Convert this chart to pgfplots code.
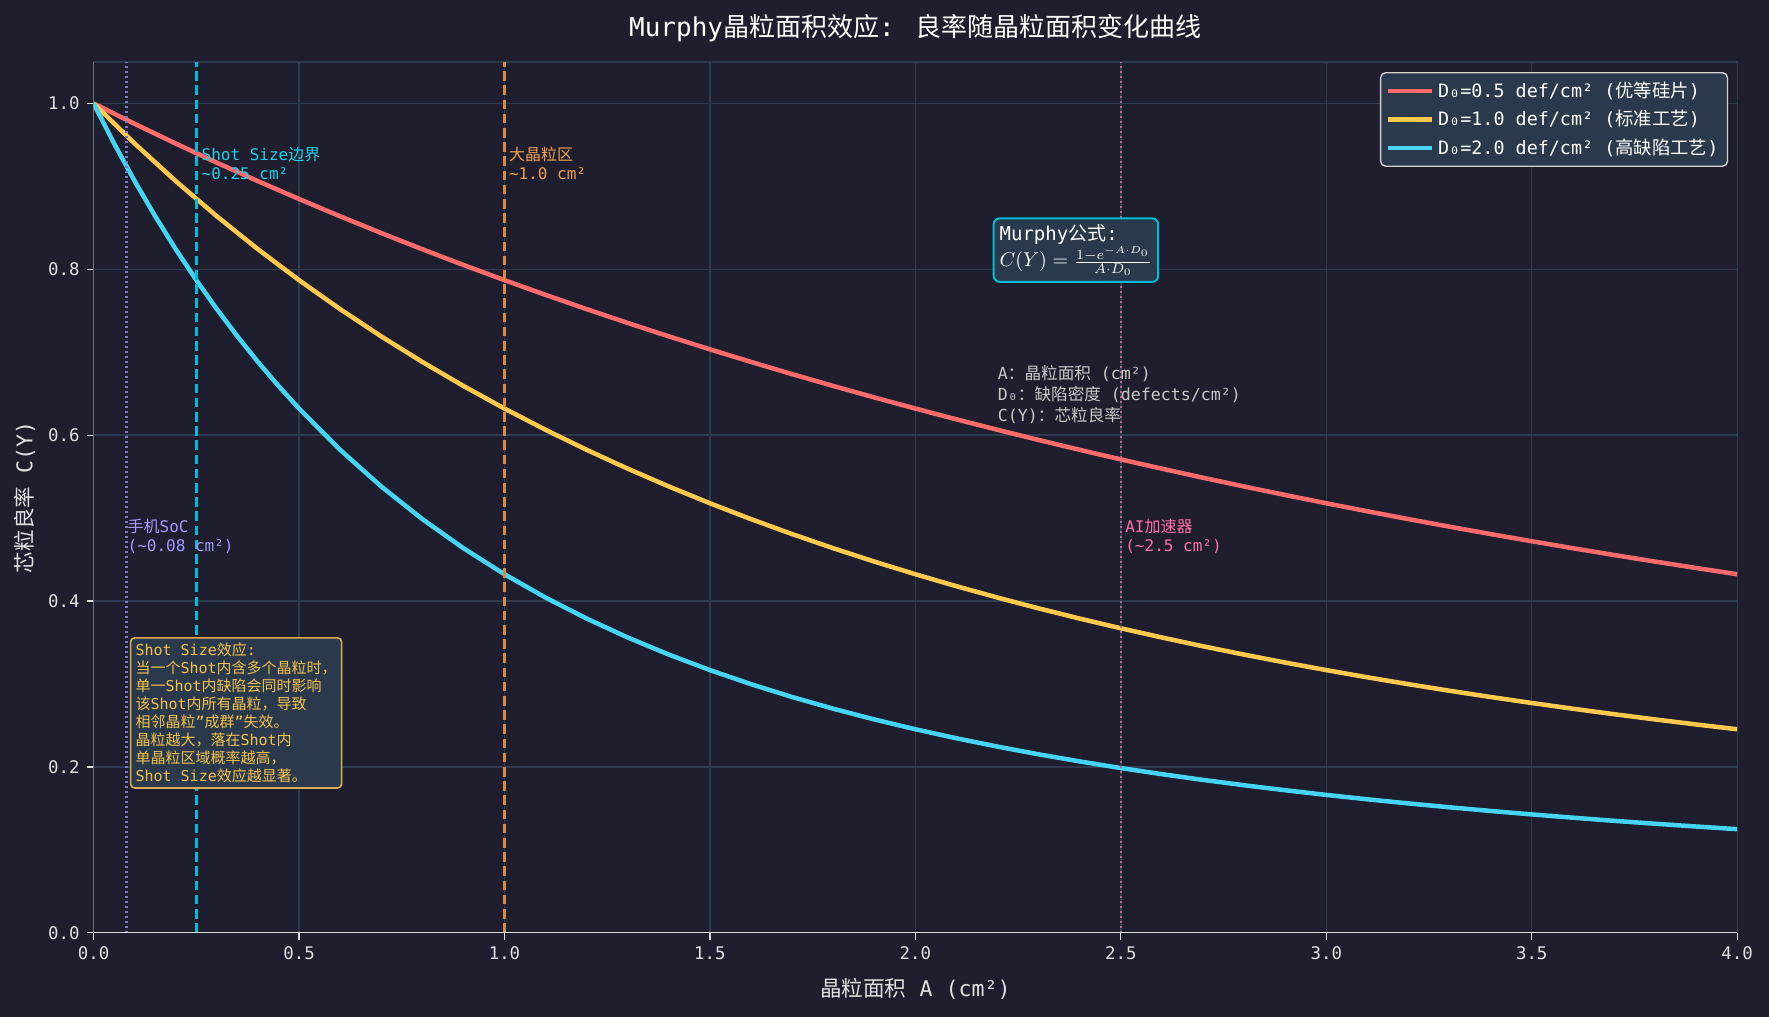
\documentclass[border=0pt]{standalone}
\usepackage{fontspec}
\setmainfont{DejaVu Sans Mono}
\newfontfamily\cjk{Noto Sans CJK SC}
\usepackage{pgfplots}
\pgfplotsset{compat=1.18}
\newcommand{\C}[1]{{\cjk #1}}
\definecolor{bg}{HTML}{1E1E2E}
\definecolor{gridc}{HTML}{2E3B4E}
\definecolor{cred}{HTML}{FF6B6B}
\definecolor{cyel}{HTML}{FFC94D}
\definecolor{ccya}{HTML}{45D4F2}
\definecolor{vcyan}{HTML}{00BCD4}
\definecolor{vorange}{HTML}{D98A3E}
\definecolor{vpurple}{HTML}{7B78C8}
\definecolor{lpurple}{HTML}{A29BFE}
\definecolor{vpink}{HTML}{B8658F}
\definecolor{lpink}{HTML}{FF6FA8}
\definecolor{lorange}{HTML}{F0A04B}
\definecolor{lcyan}{HTML}{1FD1E8}
\definecolor{boxfill}{HTML}{2A3A4C}
\definecolor{legborder}{HTML}{D0D0D0}
\definecolor{shottext}{HTML}{F4C04A}
\definecolor{shotborder}{HTML}{D9AE4F}
\definecolor{paramc}{HTML}{C8C8C8}
\definecolor{tickc}{HTML}{E0E0E0}
\definecolor{spine}{HTML}{DDDDDD}
\begin{document}
\begin{tikzpicture}
\fill[bg] (-46.8pt,-42.1pt) rectangle (837.7pt,466.4pt);
\begin{axis}[
  at={(0,0)}, anchor=south west, scale only axis,
  width=821.8pt, height=435.4pt,
  xmin=0, xmax=4, ymin=0, ymax=1.05,
  xtick={0,0.5,1,1.5,2,2.5,3,3.5,4},
  ytick={0,0.2,0.4,0.6,0.8,1.0},
  /pgf/number format/.cd, fixed, fixed zerofill, precision=1, assume math mode=true, /pgfplots/.cd,
  tick label style={font=\fontsize{8.7}{10}\selectfont, text=tickc},
  xtick pos=bottom, ytick pos=left, tick align=outside,
  major tick length=3.5pt, tick style={draw=spine, line width=0.6pt},
  grid=major, major grid style={draw=gridc, line width=0.7pt},
  axis line style={draw=gridc, line width=0.7pt},
  every axis x label/.style={at={(axis description cs:0.5,-0.0643)}, anchor=center},
  every axis y label/.style={at={(axis description cs:-0.0419,0.5)}, rotate=90, anchor=center},
  every axis title/.style={at={(axis description cs:0.5,1.0388)}, anchor=center},
  label style={font=\fontsize{10.8}{12}\selectfont, text=tickc},
  xlabel={\C{晶粒面积} A (cm²)},
  ylabel={\C{芯粒良率} C(Y)},
  title={Murphy\C{晶粒面积效应}: \C{良率随晶粒面积变化曲线}},
  title style={font=\fontsize{13}{15}\selectfont, text=white},
  legend style={at={(rel axis cs:0.9945,0.9885)}, anchor=north east,
    fill=boxfill, draw=legborder, line width=0.7pt, rounded corners=2.5pt,
    text=white, font=\fontsize{9.2}{10.5}\selectfont,
    nodes={inner sep=2pt}, row sep=1pt, inner sep=2.5pt},
  legend cell align=left,
  legend image code/.code={\draw[#1] (0pt,0pt) -- (22pt,0pt);},
]
% D0 = 0.5
\addplot[cred, line width=2.25pt] coordinates {
(0,1) (0.1,0.97542) (0.2,0.95163) (0.3,0.92861) (0.4,0.90635) (0.5,0.88480)
(0.6,0.86394) (0.7,0.84375) (0.8,0.82420) (0.9,0.80527) (1.0,0.78694)
(1.1,0.76918) (1.2,0.75198) (1.3,0.73531) (1.4,0.71916) (1.5,0.70351)
(1.6,0.68834) (1.7,0.67363) (1.8,0.65937) (1.9,0.64554) (2.0,0.63212)
(2.1,0.61911) (2.2,0.60648) (2.3,0.59423) (2.4,0.58234) (2.5,0.57080)
(2.6,0.55959) (2.7,0.54871) (2.8,0.53815) (2.9,0.52788) (3.0,0.51791)
(3.1,0.50823) (3.2,0.49881) (3.3,0.48967) (3.4,0.48077) (3.5,0.47213)
(3.6,0.46372) (3.7,0.45555) (3.8,0.44760) (3.9,0.43986) (4.0,0.43233)};
\addlegendentry{D₀=0.5 def/cm² (\C{优等硅片})}
% D0 = 1.0
\addplot[cyel, line width=2.25pt] coordinates {
(0,1) (0.1,0.95163) (0.2,0.90635) (0.3,0.86394) (0.4,0.82420) (0.5,0.78694)
(0.6,0.75198) (0.7,0.71916) (0.8,0.68834) (0.9,0.65937) (1.0,0.63212)
(1.1,0.60648) (1.2,0.58234) (1.3,0.55959) (1.4,0.53815) (1.5,0.51791)
(1.6,0.49881) (1.7,0.48077) (1.8,0.46372) (1.9,0.44760) (2.0,0.43233)
(2.1,0.41788) (2.2,0.40418) (2.3,0.39119) (2.4,0.37887) (2.5,0.36717)
(2.6,0.35605) (2.7,0.34548) (2.8,0.33543) (2.9,0.32585) (3.0,0.31674)
(3.1,0.30805) (3.2,0.29976) (3.3,0.29185) (3.4,0.28430) (3.5,0.27709)
(3.6,0.27019) (3.7,0.26359) (3.8,0.25727) (3.9,0.25122) (4.0,0.24542)};
\addlegendentry{D₀=1.0 def/cm² (\C{标准工艺})}
% D0 = 2.0
\addplot[ccya, line width=2.25pt] coordinates {
(0,1) (0.05,0.95163) (0.1,0.90635) (0.15,0.86394) (0.2,0.82420) (0.25,0.78694)
(0.3,0.75198) (0.35,0.71916) (0.4,0.68834) (0.45,0.65937) (0.5,0.63212)
(0.6,0.58234) (0.7,0.53815) (0.8,0.49881) (0.9,0.46372) (1.0,0.43233)
(1.1,0.40418) (1.2,0.37887) (1.3,0.35605) (1.4,0.33543) (1.5,0.31674)
(1.6,0.29976) (1.7,0.28430) (1.8,0.27019) (1.9,0.25727) (2.0,0.24542)
(2.1,0.23453) (2.2,0.22448) (2.3,0.21521) (2.4,0.20662) (2.5,0.19865)
(2.6,0.19125) (2.7,0.18435) (2.8,0.17791) (2.9,0.17189) (3.0,0.16625)
(3.1,0.16096) (3.2,0.15599) (3.3,0.15131) (3.4,0.14690) (3.5,0.14273)
(3.6,0.13878) (3.7,0.13505) (3.8,0.13151) (3.9,0.12815) (4.0,0.12496)};
\addlegendentry{D₀=2.0 def/cm² (\C{高缺陷工艺})}
% vertical reference lines
\addplot[forget plot, vpurple, line width=1.1pt, dash pattern=on 0.9pt off 1.6pt] coordinates {(0.08,0) (0.08,1.05)};
\addplot[forget plot, vcyan, line width=1.4pt, dash pattern=on 4.8pt off 2.3pt] coordinates {(0.25,0) (0.25,1.05)};
\addplot[forget plot, vorange, line width=1.25pt, dash pattern=on 4.8pt off 2.3pt] coordinates {(1.0,0) (1.0,1.05)};
\addplot[forget plot, vpink, line width=1.1pt, dash pattern=on 0.9pt off 1.6pt] coordinates {(2.5,0) (2.5,1.05)};
% spines
\draw[spine, line width=0.7pt] (rel axis cs:0,1) -- (rel axis cs:0,0) -- (rel axis cs:1,0);
% annotations
\node[anchor=north west, inner sep=0pt, align=left, text=lcyan, font=\fontsize{8}{9.6}\selectfont] at (axis cs:0.262,0.948) {Shot Size\C{边界}\\\textasciitilde0.25 cm²};
\node[anchor=north west, inner sep=0pt, align=left, text=lorange, font=\fontsize{8}{9.6}\selectfont] at (axis cs:1.01,0.948) {\C{大晶粒区}\\\textasciitilde1.0 cm²};
\node[anchor=north west, inner sep=0pt, align=left, text=lpurple, font=\fontsize{8}{9.6}\selectfont] at (axis cs:0.082,0.499) {\C{手机}SoC\\(\textasciitilde0.08 cm²)};
\node[anchor=north west, inner sep=0pt, align=left, text=lpink, font=\fontsize{8}{9.6}\selectfont] at (axis cs:2.51,0.499) {AI\C{加速器}\\(\textasciitilde2.5 cm²)};
% Murphy formula box
\node[anchor=north west, draw=vcyan, fill=boxfill, rounded corners=3pt, line width=1pt, text=white, align=left, inner sep=3pt, font=\fontsize{9.5}{11}\selectfont] at (axis cs:2.188,0.8626) {Murphy\C{公式}:\\{\fontsize{10.2}{12}\selectfont$C(Y)=\frac{1-e^{-A\cdot D_0}}{A\cdot D_0}$}};
% parameter description
\node[anchor=north west, inner sep=0pt, align=left, text=paramc, font=\fontsize{8.3}{10.4}\selectfont] at (axis cs:2.2,0.684) {A\C{：晶粒面积} (cm²)\\D₀\C{：缺陷密度} (defects/cm²)\\C(Y)\C{：芯粒良率}};
% Shot size box
\node[anchor=north west, draw=shotborder, fill=boxfill, rounded corners=2pt, line width=0.8pt, text=shottext, align=left, inner sep=2.5pt, font=\fontsize{7.5}{9}\selectfont] at (axis cs:0.088,0.3565) {Shot Size\C{效应}:\\\C{当一个}Shot\C{内含多个晶粒时，}\\\C{单一}Shot\C{内缺陷会同时影响}\\\C{该}Shot\C{内所有晶粒，导致}\\\C{相邻晶粒}"\C{成群}"\C{失效。}\\\C{晶粒越大，落在}Shot\C{内}\\\C{单晶粒区域概率越高，}\\Shot Size\C{效应越显著。}};
\end{axis}
\pgfresetboundingbox
\path (-46.8pt,-42.1pt) rectangle (837.7pt,466.4pt);
\end{tikzpicture}
\end{document}
